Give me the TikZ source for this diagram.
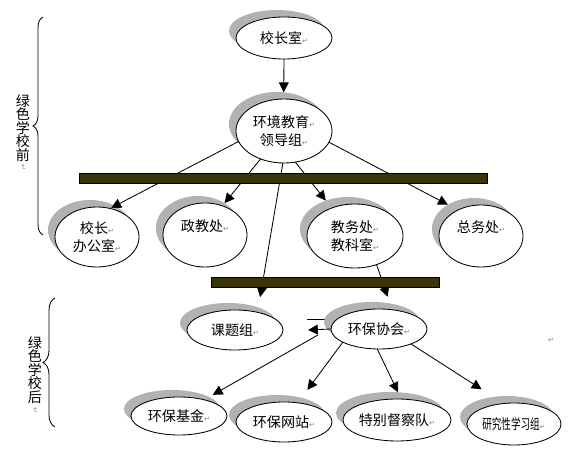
\documentclass[tikz,border=0pt]{standalone}
\usepackage{graphicx}
\usepackage{fontspec}
\setmainfont{Noto Sans CJK SC}
\newfontfamily\arrfont{DejaVu Sans}
\usepackage{tikz}
\usetikzlibrary{arrows.meta,shapes.geometric,shadows,decorations.pathreplacing}
\definecolor{barolive}{RGB}{58,52,10}
\definecolor{shadegray}{RGB}{178,178,178}
\newcommand{\ret}{{\color{gray}\arrfont\fontsize{5}{5}\selectfont ↵}}

\begin{document}
\begin{tikzpicture}[x=0.025cm, y=-0.025cm, line width=0.6pt,
  oval/.style={ellipse, draw, fill=white, inner sep=0pt, outer sep=0pt,
    align=center, font=\fontsize{10}{12.8}\selectfont,
    drop shadow={shadow xshift=-0.175cm, shadow yshift=0.175cm,
      fill=shadegray, opacity=1}},
  onshadow/.style={shift={(-0.175cm,0.175cm)}},
  bar/.style={draw, fill=barolive, inner sep=0pt, minimum height=0.25cm},
  arr/.style={-{Triangle[length=7pt,width=7pt]}},
  side/.style={align=center, font=\fontsize{10}{9.6}\selectfont}]
\useasboundingbox (0,0) rectangle (568,452);

% side braces
\draw[decorate, decoration={brace, amplitude=0.25cm}] (43,235) -- (43,17);
\node[side] (pre) at (23,128) {绿\\色\\学\\校\\前};
\node[rotate=-90] (premark) at (23,167) {\ret};
\draw[decorate, decoration={brace, amplitude=0.3cm}] (55,427) -- (55,298);
\node[side] (post) at (35,370) {绿\\色\\学\\校\\后};
\node[rotate=-90] (postmark) at (35,410) {\ret};
\node (stray) at (551,340) {\ret};

% loose strokes beside the association
\coordinate (hbl1) at (307,319);
\coordinate (hbl2) at (333,319);
\coordinate (hbw) at (308,330);
\coordinate (hbd) at (318,335);
\draw (hbl1) -- (hbl2);

% before
\node[oval, minimum width=2.4cm, minimum height=1.05cm] (xz) at (284,38) {校长室\ret};
\node[oval, minimum width=2.4cm, minimum height=1.6cm] (env) at (284,131) {环境教育\ret\\领导组\ret};
\node[oval, minimum width=2.1cm, minimum height=1.5cm] (xzb) at (97,237) {校长\ret\\办公室\ret};
\node[oval, minimum width=2.1cm, minimum height=1.6cm] (zj) at (205,235) {政教处\ret\\~};
\node[oval, minimum width=2.4cm, minimum height=1.6cm] (jw) at (355,236) {教务处\ret\\教科室\ret};
\node[oval, minimum width=2.1cm, minimum height=1.55cm] (zw) at (481,236) {总务处\ret\\~};

% after
\node[oval, minimum width=2.4cm, minimum height=1.0cm] (kt) at (235,330) {课题组\ret};
\node[oval, minimum width=2.4cm, minimum height=1.0cm] (hb) at (379,329) {环保协会\ret};
\node[oval, minimum width=2.4cm, minimum height=0.95cm] (jj) at (179,416) {环保基金\ret};
\node[oval, minimum width=2.4cm, minimum height=1.0cm] (wz) at (284,422) {环保网站\ret};
\node[oval, minimum width=2.7cm, minimum height=1.05cm] (dc) at (397,420) {特别督察队\ret};
\node[oval, minimum width=2.35cm, minimum height=1.05cm] (yj) at (514,424) {\scalebox{0.68}[1]{研究性学习组}\ret};

% connectors
\draw[arr] (xz.south) -- ([onshadow]env.78);
\draw[arr, shorten >=-3pt] (env.193) -- ([onshadow]xzb.44);
\draw[arr] (env.230) -- ([onshadow]zj.43);
\draw[arr, shorten >=7.5pt] (env.268) -- ([onshadow]kt.27);
\draw[arr] (env.290) -- ([onshadow]jw.128);
\draw[arr] (env.346) -- ([onshadow]zw.137);
\draw[arr, shorten >=5pt] (jw.307) -- ([onshadow]hb.46);
\draw[arr] (hb.west) -- (hbw);
\draw[arr, shorten >=3pt] (hbd) -- ([onshadow]jj.18);
\draw[arr, shorten >=7pt] (hb.200) -- ([onshadow]wz.35);
\draw[arr] (hb.265) -- ([onshadow]dc.69);
\draw[arr, shorten >=10pt] (hb.335) -- ([onshadow]yj.124);

% bars
\node[bar, minimum width=10.2cm] (bar1) at (283,178) {};
\node[bar, minimum width=5.7cm] (bar2) at (325,282) {};
\end{tikzpicture}
\end{document}
